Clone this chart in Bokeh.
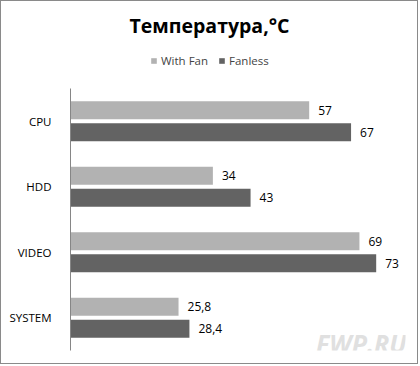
from bokeh.plotting import figure
from bokeh.models import ColumnDataSource, Range1d, Label, Legend, LegendItem, FixedTicker
from bokeh.embed import file_html
from bokeh.resources import INLINE

categories = ["CPU", "HDD", "VIDEO", "SYSTEM"]
with_fan = [57, 34, 69, 25.8]
fanless = [67, 43, 73, 28.4]
with_fan_labels = ["57", "34", "69", "25,8"]
fanless_labels = ["67", "43", "73", "28,4"]
series_names = ["With Fan", "Fanless"]
title_text = "Температура,°С"

FONT = "Open Sans"
C_LIGHT = "#b2b2b2"
C_DARK = "#636363"
OFF = 0.168
BH = 0.275

n = len(categories)
pos = [float(n - 1 - i) for i in range(n)]  # CPU on top
src = ColumnDataSource(dict(
    y_wf=[v + OFF for v in pos], y_fl=[v - OFF for v in pos],
    wf=with_fan, fl=fanless, wfl=with_fan_labels, fll=fanless_labels))

p = figure(width=418, height=364, output_backend="svg", toolbar_location=None,
           y_range=Range1d(-0.5, n - 0.5 + 87 / 65.5),
           x_range=Range1d(0, 80),
           min_border_left=69, min_border_right=14, min_border_top=0, min_border_bottom=15)
p.styles = {"border": "1px solid #8a8a8a"}

r1 = p.hbar(y="y_wf", right="wf", left=0, height=BH, source=src,
            color=C_LIGHT, line_color=None)
r2 = p.hbar(y="y_fl", right="fl", left=0, height=BH, source=src,
            color=C_DARK, line_color=None)

p.text(x="wf", y="y_wf", text="wfl", source=src, x_offset=9, text_baseline="middle",
       text_font_size="12px", text_font={"value": FONT}, text_color="#000000")
p.text(x="fl", y="y_fl", text="fll", source=src, x_offset=9, text_baseline="middle",
       text_font_size="12px", text_font={"value": FONT}, text_color="#000000")

p.xaxis.visible = False
p.xgrid.visible = False
p.ygrid.visible = False
p.outline_line_color = None
p.yaxis.ticker = FixedTicker(ticks=pos)
p.yaxis.major_label_overrides = {v: c for v, c in zip(pos, categories)}
p.yaxis.bounds = (-0.5, n - 0.5)
p.yaxis.axis_line_color = "#868686"
p.yaxis.major_tick_line_color = None
p.yaxis.minor_tick_line_color = None
p.yaxis.major_label_text_font = FONT
p.yaxis.major_label_text_font_size = "11.5px"
p.yaxis.major_label_text_color = "#000000"
p.yaxis.major_label_standoff = 13

# screen units are relative to the frame's bottom-left corner
p.add_layout(Label(x=139, y=325, x_units="screen", y_units="screen", text=title_text,
                   text_font=FONT, text_font_style="bold", text_font_size="19.5px",
                   text_align="center", text_baseline="middle", text_color="#000000"))

legend = Legend(items=[LegendItem(label=series_names[0], renderers=[r1]),
                       LegendItem(label=series_names[1], renderers=[r2])],
                orientation="horizontal", location=(80, 282),
                label_text_font=FONT, label_text_font_size="11.5px",
                glyph_width=7, glyph_height=7, label_standoff=4, spacing=10,
                background_fill_alpha=0, border_line_color=None, padding=0, margin=0)
p.add_layout(legend, "center")

p.add_layout(Label(x=336, y=8, x_units="screen", y_units="screen", text="FWP.RU",
                   text_font=FONT, text_font_style="bold italic", text_font_size="25px",
                   text_align="right", text_baseline="middle", text_color="#e0e0e0"))

open("out.html", "w").write(file_html(p, INLINE))
